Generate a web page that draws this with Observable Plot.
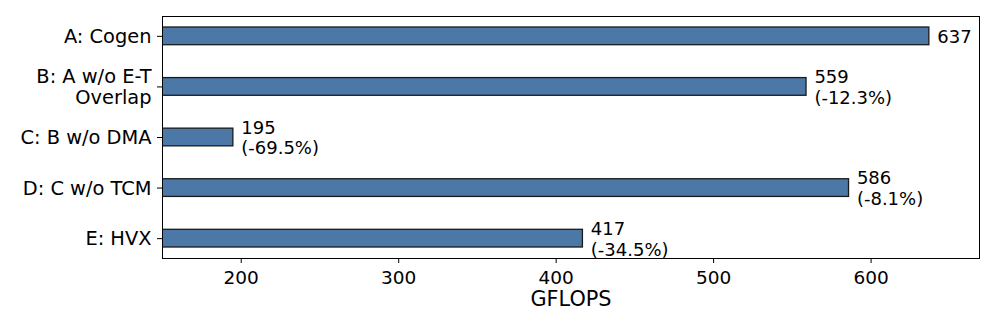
<!DOCTYPE html>
<html>
<head>
<meta charset="utf-8">
<script src="https://cdn.jsdelivr.net/npm/d3@7"></script>
<script src="https://cdn.jsdelivr.net/npm/@observablehq/plot@0.6"></script>
<style>
  body { margin: 0; background: #fff; }
  #chart svg { display: block; }
</style>
</head>
<body>
<div id="chart"></div>
<script>
const categories = ["A: Cogen", "B: A w/o E-T\nOverlap", "C: B w/o DMA", "D: C w/o TCM", "E: HVX"];
const gflops = [637, 559, 195, 586, 417];
const changes = ["", "(-12.3%)", "(-69.5%)", "(-8.1%)", "(-34.5%)"];
const xTicks = [200, 300, 400, 500, 600];
const xLabel = "GFLOPS";

const rows = categories.map((c, i) => ({
  category: c,
  value: gflops[i],
  label: changes[i] ? `${gflops[i]}\n${changes[i]}` : `${gflops[i]}`
}));

const font = "DejaVu Sans";
const chart = Plot.plot({
  width: 997,
  height: 332,
  marginLeft: 162,
  marginRight: 18,
  marginTop: 16,
  marginBottom: 74,
  style: { fontFamily: font, color: "black", background: "white" },
  x: { domain: [150, 637 * 1.05] },
  y: { type: "band", domain: categories, paddingInner: 0.65, paddingOuter: 0.2175, round: false },
  marks: [
    Plot.barX(rows, { y: "category", x1: 0, x2: "value", fill: "#4c78a8", stroke: "#1a1a1a", strokeWidth: 1.3, clip: true }),
    Plot.text(rows, { y: "category", x: d => d.value + 5, text: "label", textAnchor: "start", lineAnchor: "middle", fontSize: 18, fill: "black", lineHeight: 1.15 }),
    Plot.frame({ stroke: "black", strokeWidth: 1 }),
    Plot.axisX({ ticks: xTicks, tickSize: 5, tickPadding: 7, fontSize: 18.5, label: null, stroke: "black" }),
    Plot.axisY({ tickSize: 5, tickPadding: 6, fontSize: 19.4, label: null, stroke: "black", lineHeight: 1.1 }),
    Plot.text([xLabel], { frameAnchor: "bottom", dy: 47, fontSize: 20.8, fill: "black" })
  ]
});
document.getElementById("chart").appendChild(chart);
</script>
</body>
</html>
